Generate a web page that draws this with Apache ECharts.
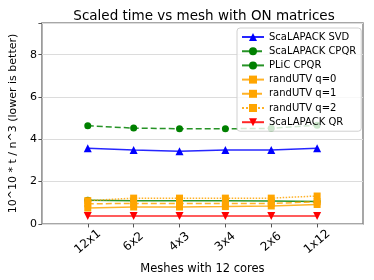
<!DOCTYPE html>
<html><head><meta charset="utf-8">
<script src="https://cdn.jsdelivr.net/npm/echarts@6/dist/echarts.min.js"></script>
<style>html,body{margin:0;padding:0;background:#fff}#c{width:374px;height:280px}</style>
</head><body><div id="c"></div>
<script>
const categories = ['12x1', '6x2', '4x3', '3x4', '2x6', '1x12'];
const svd = [3.58, 3.50, 3.44, 3.49, 3.50, 3.58];
const cpqr = [4.64, 4.53, 4.50, 4.50, 4.52, 4.67];
const plic = [1.12, 1.10, 1.10, 1.10, 1.08, 1.06];
const utv0 = [0.75, 0.80, 0.80, 0.82, 0.85, 0.92];
const utv1 = [0.95, 0.97, 0.97, 0.97, 0.97, 1.05];
const utv2 = [1.10, 1.22, 1.22, 1.22, 1.22, 1.32];
const qr = [0.38, 0.38, 0.37, 0.37, 0.37, 0.38];
const yTicks = [0, 2, 4, 6, 8];

const axisCats = [''].concat(categories, ['']);
const toData = v => categories.map((c, i) => [c, v[i]]);
const font = 'DejaVu Sans';

function mk(name, vals, color, symbol, lineType, rotate, size) {
  return {
    name, type: 'line', data: toData(vals),
    symbol, symbolSize: size, symbolRotate: rotate || 0,
    itemStyle: { color, opacity: 1 },
    lineStyle: { color, width: 1.5, type: lineType, opacity: 0.85 },
    z: 2
  };
}

const chart = echarts.init(document.getElementById('c'), null, { renderer: 'canvas' });
chart.setOption({
  animation: false,
  textStyle: { fontFamily: font },
  title: {
    text: 'Scaled time vs mesh with ON matrices', left: 199, top: 4, textAlign: 'center',
    textStyle: { fontFamily: font, fontSize: 13.5, fontWeight: 'normal', color: '#000' }
  },
  grid: { left: 35, right: 11, top: 23, bottom: 54, show: true, borderColor: '#8a8a8a', borderWidth: 1.5 },
  legend: {
    left: 237, top: 28, orient: 'vertical',
    itemWidth: 22, itemHeight: 10, itemGap: 4.2,
    padding: [4, 5, 4, 4],
    backgroundColor: 'rgba(255,255,255,0.8)', borderColor: '#d0d0d0', borderWidth: 1, borderRadius: 3,
    textStyle: { fontFamily: font, fontSize: 10, color: '#000' },
    z: 10
  },
  xAxis: {
    type: 'category', data: axisCats, boundaryGap: false,
    name: 'Meshes with 12 cores', nameLocation: 'middle', nameGap: 33,
    nameTextStyle: { fontFamily: font, fontSize: 11.5, color: '#000' },
    axisLine: { show: false },
    axisTick: { show: true, length: 3.5, lineStyle: { color: '#555' }, interval: (i, v) => v !== '' },
    axisLabel: { interval: 0, rotate: 40, fontSize: 12, color: '#000', fontFamily: font, align: 'center', verticalAlign: 'middle', margin: 18 },
    splitLine: { show: false }
  },
  yAxis: {
    type: 'value', min: 0, max: 9.5, interval: 2,
    name: '10^10 * t / n^3 (lower is better)', nameLocation: 'middle', nameGap: 20,
    nameTextStyle: { fontFamily: font, fontSize: 11, color: '#000' },
    axisLine: { show: false },
    axisTick: { show: true, length: 3.5, lineStyle: { color: '#555' } },
    axisLabel: { fontSize: 11, color: '#000', fontFamily: font, margin: 5,
      formatter: v => yTicks.indexOf(v) >= 0 ? String(v) : '' },
    splitLine: { show: true, lineStyle: { color: '#dcdcdc', width: 1 } }
  },
  series: [
    mk('ScaLAPACK SVD', svd, '#0000ff', 'triangle', 'solid', 0, 8),
    mk('ScaLAPACK CPQR', cpqr, '#008000', 'circle', 'dashed', 0, 7),
    mk('PLiC CPQR', plic, '#008000', 'circle', 'solid', 0, 7),
    mk('randUTV q=0', utv0, '#ffa500', 'rect', 'solid', 0, 7),
    mk('randUTV q=1', utv1, '#ffa500', 'rect', 'dashed', 0, 7),
    mk('randUTV q=2', utv2, '#ffa500', 'rect', 'dotted', 0, 7),
    mk('ScaLAPACK QR', qr, '#ff0000', 'triangle', 'solid', 180, 8)
  ]
});
</script></body></html>
